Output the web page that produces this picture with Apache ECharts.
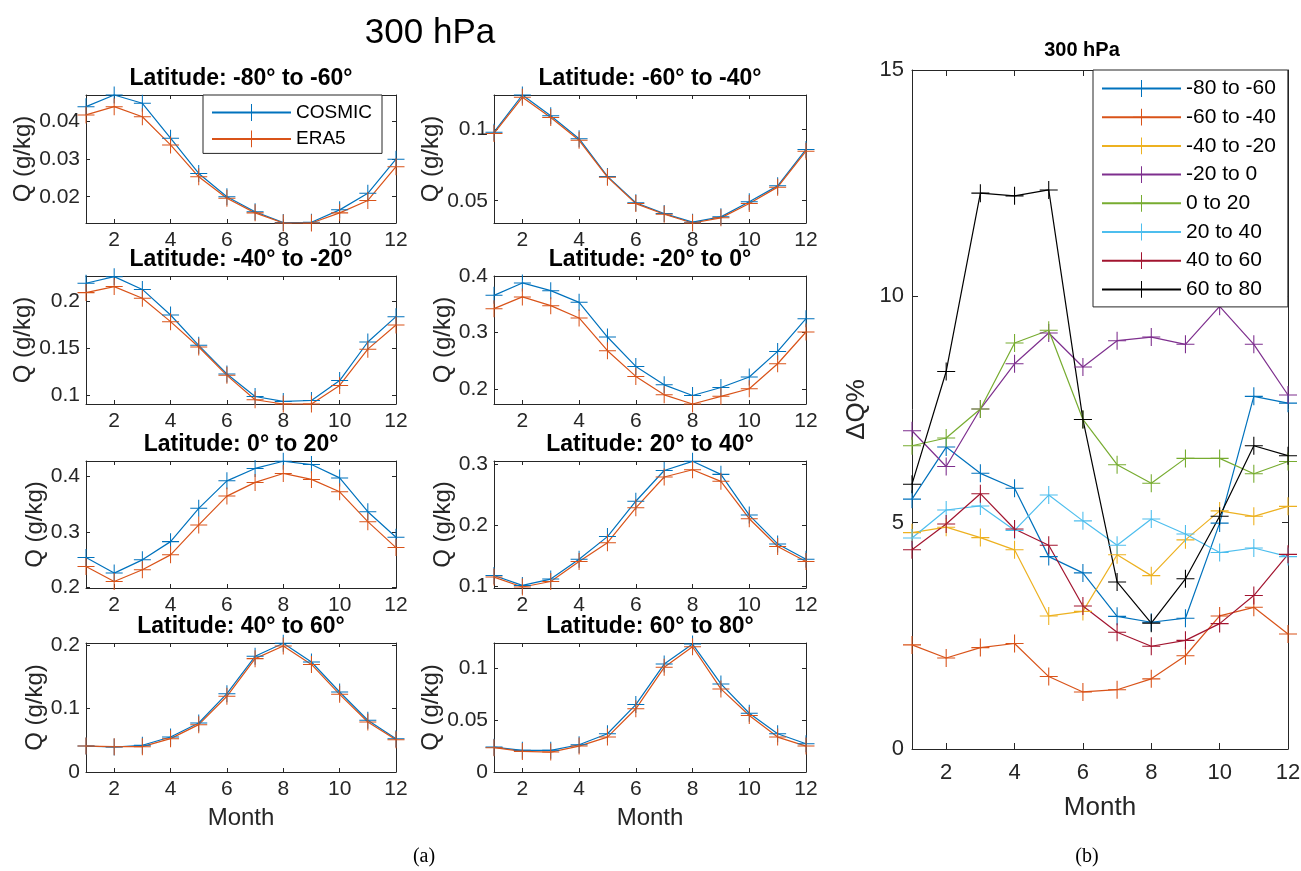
<!DOCTYPE html>
<html><head><meta charset="utf-8">
<script src="https://cdn.jsdelivr.net/npm/echarts@6/dist/echarts.min.js"></script>
<style>html,body{margin:0;padding:0;background:#fff}#c{width:1301px;height:871px}</style>
</head><body><div id="c"></div>
<script>
// ---------------- data ----------------
const months = [1,2,3,4,5,6,7,8,9,10,11,12];
const monthTicks = [2,4,6,8,10,12];
const mainTitle = '300 hPa';
const bandTitles = ['Latitude: -80° to -60°','Latitude: -60° to -40°','Latitude: -40° to -20°','Latitude: -20° to 0°',
                    'Latitude: 0° to 20°','Latitude: 20° to 40°','Latitude: 40° to 60°','Latitude: 60° to 80°'];
const seriesNamesA = ['COSMIC','ERA5'];

const cosmic80S60S = [0.0440,0.0471,0.0449,0.0356,0.0262,0.0200,0.0160,0.0131,0.0132,0.0165,0.0209,0.0300];
const era580S60S   = [0.0418,0.0440,0.0413,0.0338,0.0253,0.0196,0.0157,0.0130,0.0130,0.0157,0.0190,0.0280];
const cosmic60S40S = [0.0980,0.1240,0.1095,0.0934,0.0670,0.0486,0.0410,0.0350,0.0387,0.0493,0.0604,0.0859];
const era560S40S   = [0.0971,0.1224,0.1083,0.0923,0.0665,0.0480,0.0405,0.0344,0.0380,0.0480,0.0595,0.0847];
const cosmic40S20S = [0.2196,0.2266,0.2130,0.1858,0.1535,0.1230,0.0990,0.0937,0.0947,0.1160,0.1570,0.1840];
const era540S20S   = [0.2096,0.2160,0.2036,0.1787,0.1517,0.1215,0.0955,0.0910,0.0910,0.1108,0.1494,0.1752];
const cosmic20S0   = [0.3657,0.3877,0.3740,0.3533,0.2918,0.2396,0.2070,0.1880,0.2023,0.2208,0.2663,0.3243];
const era520S0     = [0.3421,0.3629,0.3474,0.3256,0.2675,0.2219,0.1893,0.1730,0.1866,0.2000,0.2444,0.3007];
const cosmic0N20N  = [0.2538,0.2258,0.2496,0.2824,0.3423,0.3917,0.4140,0.4270,0.4210,0.3970,0.3362,0.2903];
const era50N20N    = [0.2376,0.2108,0.2317,0.2586,0.3124,0.3643,0.3889,0.4050,0.3943,0.3720,0.3183,0.2717];
const cosmic20N40N = [0.1178,0.1016,0.1120,0.1444,0.1812,0.2389,0.2890,0.3040,0.2827,0.2163,0.1693,0.1444];
const era520N40N   = [0.1152,0.0990,0.1080,0.1405,0.1713,0.2282,0.2784,0.2903,0.2713,0.2104,0.1651,0.1405];
const cosmic40N60N = [0.0410,0.0395,0.0422,0.0553,0.0774,0.1238,0.1828,0.2035,0.1738,0.1264,0.0817,0.0527];
const era540N60N   = [0.0410,0.0400,0.0400,0.0527,0.0748,0.1196,0.1791,0.1990,0.1700,0.1227,0.0790,0.0511];
const cosmic60N80N = [0.0240,0.0209,0.0209,0.0263,0.0369,0.0651,0.1042,0.1235,0.0850,0.0567,0.0369,0.0273];
const era560N80N   = [0.0235,0.0199,0.0192,0.0250,0.0337,0.0610,0.1010,0.1209,0.0802,0.0545,0.0337,0.0250];

const yTicks80S60S = [0.02,0.03,0.04];
const yTicks60S40S = [0.05,0.1];
const yTicks40S20S = [0.1,0.15,0.2];
const yTicks20S0   = [0.2,0.3,0.4];
const yTicks0N20N  = [0.2,0.3,0.4];
const yTicks20N40N = [0.1,0.2,0.3];
const yTicks40N60N = [0,0.1,0.2];
const yTicks60N80N = [0,0.05,0.1];
const yLim80S60S = [0.013,0.0471];
const yLim60S40S = [0.0344,0.124];
const yLim40S20S = [0.091,0.2273];
const yLim20S0   = [0.173,0.40];
const yLim0N20N  = [0.199,0.4274];
const yLim20N40N = [0.0974,0.3045];
const yLim40N60N = [0,0.2038];
const yLim60N80N = [0,0.1245];

const dqNames = ['-80 to -60','-60 to -40','-40 to -20','-20 to 0','0 to 20','20 to 40','40 to 60','60 to 80'];
const dq80S60S = [5.52,6.67,6.09,5.76,4.25,3.89,2.93,2.80,2.89,4.99,7.79,7.64];
const dq60S40S = [2.30,2.01,2.24,2.33,1.60,1.26,1.31,1.55,2.06,2.94,3.13,2.54];
const dq40S20S = [4.78,4.90,4.67,4.40,2.94,3.04,4.29,3.83,4.62,5.26,5.14,5.36];
const dq20S0   = [7.03,6.24,7.51,8.51,9.19,8.44,9.02,9.10,8.94,9.78,8.94,7.82];
const dq0N20N  = [6.70,6.87,7.51,8.97,9.25,7.28,6.28,5.87,6.42,6.42,6.08,6.35];
const dq20N40N = [4.66,5.28,5.37,4.83,5.61,5.04,4.50,5.08,4.75,4.34,4.44,4.25];
const dq40N60N = [4.40,4.97,5.64,4.86,4.50,3.16,2.58,2.27,2.40,2.77,3.39,4.30];
const dq60N80N = [5.85,8.34,12.28,12.22,12.35,7.28,3.69,2.78,3.76,5.14,6.70,6.48];
const dqTicks = [0,5,10,15];

// ---------------- styling / layout ----------------
const FONT = "'Liberation Sans', Arial, Helvetica, sans-serif";
const AX = '#262626';
const PLUS = 'path://M9.4,0H10.6V9.4H20V10.6H10.6V20H9.4V10.6H0V9.4H9.4Z';
const colA = ['#0072BD','#D95319'];
const colB = ['#0072BD','#D95319','#EDB120','#7E2F8E','#77AC30','#4DBEEE','#A2142F','#000000'];
const colX = [{left:86,width:310},{left:494,width:312}];
const rowY = [{top:95,height:128},{top:276,height:128},{top:461,height:127},{top:643,height:129}];

const panels = [
  {c:cosmic80S60S,e:era580S60S,lim:yLim80S60S,t:yTicks80S60S,col:0,row:0,gap:51},
  {c:cosmic60S40S,e:era560S40S,lim:yLim60S40S,t:yTicks60S40S,col:1,row:0,gap:49},
  {c:cosmic40S20S,e:era540S20S,lim:yLim40S20S,t:yTicks40S20S,col:0,row:1,gap:49},
  {c:cosmic20S0,e:era520S0,lim:yLim20S0,t:yTicks20S0,col:1,row:1,gap:37},
  {c:cosmic0N20N,e:era50N20N,lim:yLim0N20N,t:yTicks0N20N,col:0,row:2,gap:37},
  {c:cosmic20N40N,e:era520N40N,lim:yLim20N40N,t:yTicks20N40N,col:1,row:2,gap:35},
  {c:cosmic40N60N,e:era540N60N,lim:yLim40N60N,t:yTicks40N60N,col:0,row:3,gap:37},
  {c:cosmic60N80N,e:era560N80N,lim:yLim60N80N,t:yTicks60N80N,col:1,row:3,gap:49}
];
const dqSeries = [dq80S60S,dq60S40S,dq40S20S,dq20S0,dq0N20N,dq20N40N,dq40N60N,dq60N80N];

const fmt = v => String(+(+v).toFixed(4));
const grids = [], xAxes = [], yAxes = [], series = [], graphics = [];

function addAxes(g, xmin, xmax, xticks, ymin, ymax, yticks, o) {
  const common = {gridIndex:g, type:'value', splitLine:{show:false}, axisLine:{show:true,onZero:false,lineStyle:{color:AX,width:1}}};
  xAxes.push(Object.assign({}, common, {min:xmin,max:xmax,position:'bottom',
    axisTick:{show:true,inside:true,length:o.tick,customValues:xticks,lineStyle:{color:AX}},
    axisLabel:{show:true,customValues:xticks,color:AX,fontSize:o.fs,fontFamily:FONT,margin:o.xm},
    name:o.xname||'',nameLocation:'middle',nameGap:o.xgap||30,nameTextStyle:{color:AX,fontSize:o.nfs,fontFamily:FONT}}));
  xAxes.push(Object.assign({}, common, {min:xmin,max:xmax,position:'top',
    axisTick:{show:true,inside:true,length:o.tick,customValues:xticks,lineStyle:{color:AX}},
    axisLabel:{show:false}}));
  yAxes.push(Object.assign({}, common, {min:ymin,max:ymax,position:'left',
    axisTick:{show:true,inside:true,length:o.tick,customValues:yticks,lineStyle:{color:AX}},
    axisLabel:{show:true,customValues:yticks,color:AX,fontSize:o.fs,fontFamily:FONT,margin:o.ym,formatter:fmt},
    name:o.yname,nameLocation:'middle',nameGap:o.ygap,nameRotate:90,nameTextStyle:{color:AX,fontSize:o.yfs,fontFamily:FONT}}));
  yAxes.push(Object.assign({}, common, {min:ymin,max:ymax,position:'right',
    axisTick:{show:true,inside:true,length:o.tick,customValues:yticks,lineStyle:{color:AX}},
    axisLabel:{show:false}}));
}

function lineSeries(name, xi, data, color, size) {
  return {type:'line', name, xAxisIndex:xi, yAxisIndex:xi, data: months.map((m,k)=>[m,data[k]]),
    symbol:PLUS, symbolSize:size, showSymbol:true, clip:false,
    lineStyle:{color,width:1.2}, itemStyle:{color}, emphasis:{disabled:true}, animation:false, z:2};
}

panels.forEach((p,i) => {
  const cx = colX[p.col], ry = rowY[p.row];
  grids.push({left:cx.left, top:ry.top, width:cx.width, height:ry.height, show:false, containLabel:false, outerBoundsMode:'none'});
  addAxes(i, 1, 12, monthTicks, p.lim[0], p.lim[1], p.t,
    {tick:4, fs:21, nfs:24, yfs:24, xm:7, ym:6, yname:'Q (g/kg)', ygap:p.gap,
     xname: p.row===3 ? 'Month' : '', xgap:34});
  series.push(lineSeries(seriesNamesA[0], 2*i, p.c, colA[0], 17));
  series.push(lineSeries(seriesNamesA[1], 2*i, p.e, colA[1], 17));
  graphics.push({type:'text', x: cx.left + cx.width/2, y: ry.top - 16,
    style:{text:bandTitles[i], font:'bold 23px '+FONT, fill:'#000', align:'center', verticalAlign:'middle'}});
});

// right panel
const gi = 8;
grids.push({left:912, top:70, width:376, height:679, show:false, containLabel:false, outerBoundsMode:'none'});
addAxes(gi, 1, 12, monthTicks, 0, 15, dqTicks,
  {tick:6, fs:22, nfs:26, yfs:26, xm:13, ym:8, yname:'ΔQ%', ygap:42, xname:'Month', xgap:46});
dqSeries.forEach((d,k) => series.push(lineSeries(dqNames[k], 2*gi, d, colB[k], 18)));

graphics.push({type:'text', x:430, y:33, style:{text:mainTitle, font:'35px '+FONT, fill:'#000', align:'center', verticalAlign:'middle'}});
graphics.push({type:'text', x:1082, y:50, style:{text:mainTitle, font:'bold 20px '+FONT, fill:'#000', align:'center', verticalAlign:'middle'}});
graphics.push({type:'text', x:424, y:857, style:{text:'(a)', font:"20px 'Liberation Serif', 'Times New Roman', serif", fill:'#000', align:'center', verticalAlign:'middle'}});
graphics.push({type:'text', x:1087, y:857, style:{text:'(b)', font:"20px 'Liberation Serif', 'Times New Roman', serif", fill:'#000', align:'center', verticalAlign:'middle'}});

const option = {
  animation:false,
  backgroundColor:'#fff',
  grid:grids, xAxis:xAxes, yAxis:yAxes, series,
  legend:[
    {data:seriesNamesA, orient:'vertical', left:203, top:95, itemWidth:79, itemHeight:21, itemGap:7.4,
     padding:[8,10,5,8], borderColor:AX, borderWidth:1, backgroundColor:'#fff', selectedMode:false,
     textStyle:{fontSize:19, color:'#000', fontFamily:FONT}},
    {data:dqNames, orient:'vertical', left:1093, top:70, itemWidth:79, itemHeight:21, itemGap:7.7,
     padding:[8,12,7,8], borderColor:AX, borderWidth:1, backgroundColor:'#fff', selectedMode:false,
     textStyle:{fontSize:21, color:'#000', fontFamily:FONT}}
  ],
  graphic:graphics
};
const chart = echarts.init(document.getElementById('c'), null, {renderer:'canvas'});
chart.setOption(option);
</script></body></html>
